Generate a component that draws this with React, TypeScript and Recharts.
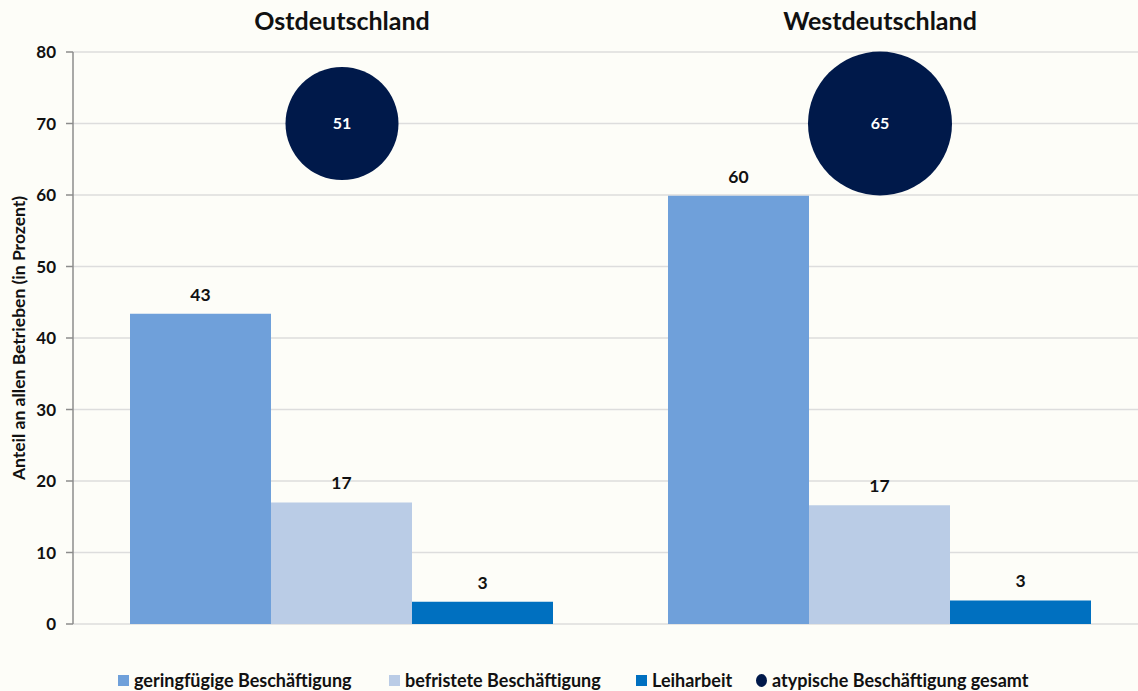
import React from 'react';
import {
  ComposedChart,
  Bar,
  Scatter,
  XAxis,
  YAxis,
  ZAxis,
  CartesianGrid,
  LabelList,
  Legend,
} from 'recharts';

// ---- data ----
const REGIONS = ['Ostdeutschland', 'Westdeutschland'];
const GERINGFUEGIG = [43.4, 59.9];
const BEFRISTET = [17.0, 16.6];
const LEIHARBEIT = [3.1, 3.3];
const GESAMT = [51, 65];
const Y_TICKS = [0, 10, 20, 30, 40, 50, 60, 70, 80];
const BUBBLE_LEVEL = 70;

const SERIES_NAMES = {
  geringfuegig: 'geringfügige Beschäftigung',
  befristet: 'befristete Beschäftigung',
  leiharbeit: 'Leiharbeit',
  gesamt: 'atypische Beschäftigung gesamt',
};

const COLORS = {
  geringfuegig: '#6FA0DA',
  befristet: '#BACCE6',
  leiharbeit: '#0070C0',
  gesamt: '#00194A',
};

const chartData = REGIONS.map((region, i) => ({
  region,
  geringfuegig: GERINGFUEGIG[i],
  befristet: BEFRISTET[i],
  leiharbeit: LEIHARBEIT[i],
  gesamt: GESAMT[i],
}));

const FONT = 'Lato, "Open Sans", sans-serif';
const BG = '#FDFDF8';

const LEGEND_ITEMS = [
  { key: 'geringfuegig', shape: 'square', slot: 271 },
  { key: 'befristet', shape: 'square', slot: 247 },
  { key: 'leiharbeit', shape: 'square', slot: 120 },
  { key: 'gesamt', shape: 'circle', slot: 320 },
];

const LegendContent = () => (
  <div
    style={{
      display: 'flex',
      justifyContent: 'flex-start',
      alignItems: 'center',
      height: 26,
      paddingLeft: 118,
      fontFamily: FONT,
      fontWeight: 700,
      fontSize: 18,
      color: '#111',
      whiteSpace: 'nowrap',
    }}
  >
    {LEGEND_ITEMS.map((it) => (
      <div key={it.key} style={{ display: 'flex', alignItems: 'center', width: it.slot }}>
        <span
          style={{
            display: 'inline-block',
            width: 11,
            height: it.shape === 'circle' ? 13 : 11,
            borderRadius: it.shape === 'circle' ? '50%' : 0,
            background: COLORS[it.key],
            marginRight: 5,
          }}
        />
        <span>{SERIES_NAMES[it.key]}</span>
      </div>
    ))}
  </div>
);

const YLabel = (props: any) => {
  const vb = props.viewBox || {};
  const cx = 18;
  const cy = vb.y + vb.height / 2;
  return (
    <text
      x={cx}
      y={cy}
      transform={`rotate(-90, ${cx}, ${cy})`}
      textAnchor="middle"
      dominantBaseline="central"
      fontFamily={FONT}
      fontWeight={700}
      fontSize={17.5}
      fill="#111"
    >
      Anteil an allen Betrieben (in Prozent)
    </text>
  );
};

const TopTick = (props: any) => {
  const { x, payload } = props;
  return (
    <text
      x={x}
      y={30}
      textAnchor="middle"
      fontFamily={FONT}
      fontWeight={700}
      fontSize={25}
      fill="#111"
    >
      {payload.value}
    </text>
  );
};

const barLabelStyle = { fill: '#111', fontFamily: FONT, fontWeight: 700, fontSize: 17.5 };

export default function App() {
  return (
    <div
      style={{
        position: 'absolute',
        left: 0,
        top: 0,
        width: 1138,
        height: 691,
        overflow: 'hidden',
        background: BG,
      }}
    >
      <ComposedChart
        width={1160}
        height={691}
        data={chartData}
        margin={{ top: 0, right: 11, bottom: 41, left: 13 }}
        barCategoryGap={57}
        barGap={0}
      >
        <CartesianGrid vertical={false} stroke="#DDDDDD" strokeWidth={1.5} />
        <XAxis
          dataKey="region"
          orientation="top"
          height={52}
          axisLine={false}
          tickLine={false}
          tick={<TopTick />}
          interval={0}
        />
        <YAxis
          domain={[0, 80]}
          ticks={Y_TICKS}
          width={60}
          axisLine={{ stroke: '#8C8C8C', strokeWidth: 1.5 }}
          tickLine={{ stroke: '#8C8C8C', strokeWidth: 1.5 }}
          tickSize={7}
          tickMargin={10}
          tick={{ fill: '#111', fontFamily: FONT, fontWeight: 700, fontSize: 17 }}
          label={<YLabel />}
        />
        <ZAxis
          dataKey="gesamt"
          type="number"
          domain={[51, 65]}
          range={[Math.PI * 56.5 * 56.5, Math.PI * 72 * 72]}
        />
        <Legend
          verticalAlign="bottom"
          content={<LegendContent />}
          wrapperStyle={{ left: 0, top: 667, width: 1138, height: 26 }}
        />
        <Bar dataKey="geringfuegig" name={SERIES_NAMES.geringfuegig} fill={COLORS.geringfuegig} isAnimationActive={false}>
          <LabelList dataKey="geringfuegig" position="top" offset={13} formatter={(v: any) => Math.round(v)} style={barLabelStyle} />
        </Bar>
        <Bar dataKey="befristet" name={SERIES_NAMES.befristet} fill={COLORS.befristet} isAnimationActive={false}>
          <LabelList dataKey="befristet" position="top" offset={13} formatter={(v: any) => Math.round(v)} style={barLabelStyle} />
        </Bar>
        <Bar dataKey="leiharbeit" name={SERIES_NAMES.leiharbeit} fill={COLORS.leiharbeit} isAnimationActive={false}>
          <LabelList dataKey="leiharbeit" position="top" offset={13} formatter={(v: any) => Math.round(v)} style={barLabelStyle} />
        </Bar>
        <Scatter
          dataKey={() => BUBBLE_LEVEL}
          name={SERIES_NAMES.gesamt}
          fill={COLORS.gesamt}
          isAnimationActive={false}
        >
          <LabelList
            dataKey="gesamt"
            position="center"
            style={{ fill: '#FFFFFF', fontFamily: FONT, fontWeight: 700, fontSize: 16 }}
          />
        </Scatter>
      </ComposedChart>
    </div>
  );
}
